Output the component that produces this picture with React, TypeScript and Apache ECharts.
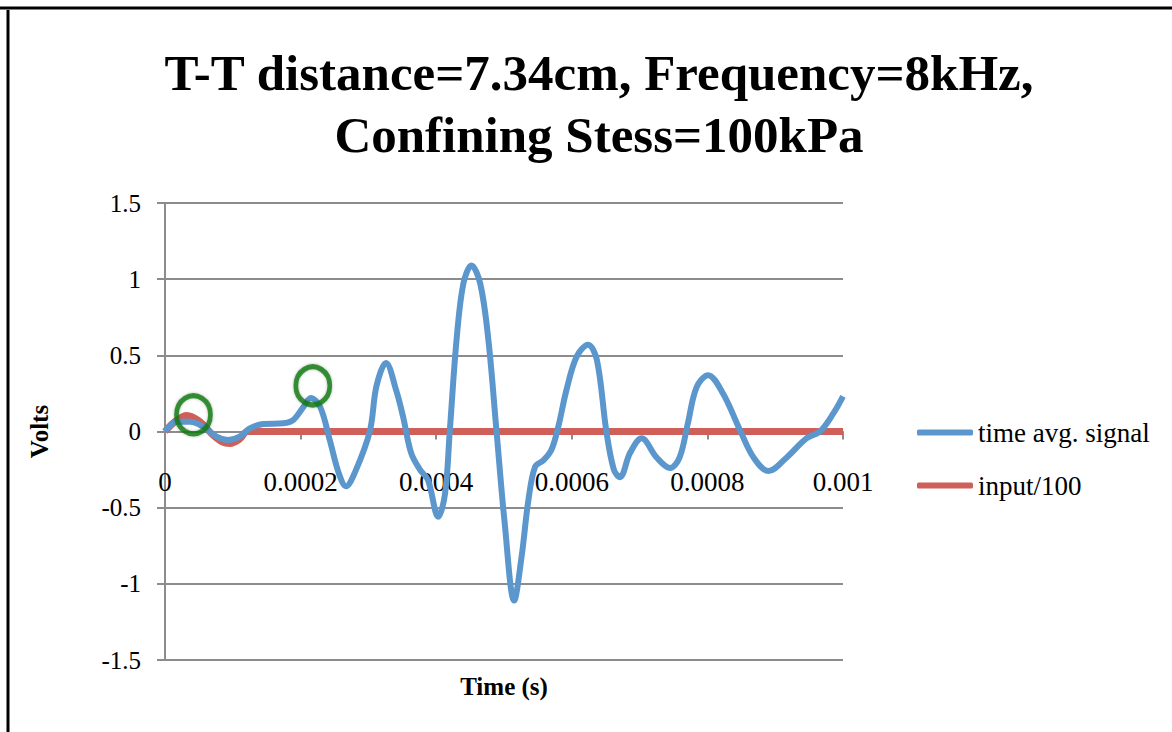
import React, { useEffect, useRef } from "react";
import * as echarts from "echarts";

const titleLines = ["T-T distance=7.34cm, Frequency=8kHz,", "Confining Stess=100kPa"];
const seriesNames = ["time avg. signal", "input/100"];

// time avg. signal: time (s) and volts
const signalTime = [
  0, 0.000017, 0.000037, 0.000057, 0.000076, 0.000093, 0.00011, 0.000125, 0.000145, 0.000174,
  0.000189, 0.000204, 0.000215, 0.000229, 0.000243, 0.000256, 0.000267, 0.00028, 0.000302, 0.000312,
  0.000326, 0.000341, 0.000351, 0.000363, 0.000376, 0.000388, 0.000403, 0.000413, 0.00042,
  0.00043, 0.00044, 0.000452, 0.000465, 0.000477, 0.000489, 0.000501, 0.000515, 0.000526, 0.000536,
  0.000546, 0.000558, 0.00057, 0.00058, 0.000592, 0.000607, 0.000624, 0.000637, 0.000651,
  0.000662, 0.000671, 0.000686, 0.000703, 0.000725, 0.000745, 0.000759, 0.000771, 0.000784, 0.000801,
  0.000823, 0.000848, 0.000868, 0.00089, 0.000917, 0.000946, 0.000966, 0.000986, 0.001,
];
const signalVolts = [
  0, 0.064, 0.064, 0.03, -0.034, -0.056, -0.034, 0.02, 0.049, 0.054,
  0.075, 0.16, 0.22, 0.16, -0.056, -0.27, -0.36, -0.27, 0, 0.3,
  0.45, 0.27, 0.1, -0.14, -0.25, -0.32, -0.56, -0.41, 0,
  0.6, 0.97, 1.09, 0.97, 0.6, 0, -0.6, -1.11, -0.82, -0.45,
  -0.23, -0.19, -0.12, 0.03, 0.27, 0.49, 0.57, 0.47, 0,
  -0.25, -0.3, -0.14, -0.045, -0.17, -0.24, -0.17, 0.05, 0.29, 0.37,
  0.25, 0.01, -0.17, -0.26, -0.17, -0.045, 0, 0.12, 0.23,
];

// input/100
const inputTime = [0, 0.000016, 0.000032, 0.00005, 0.00007, 0.000085, 0.000096, 0.00011, 0.000122, 0.001];
const inputVolts = [0, 0.07, 0.105, 0.07, -0.02, -0.07, -0.078, -0.05, 0, 0];

// green annotation circles (time, volts)
const markTime = [0.000042, 0.000218];
const markVolts = [0.11, 0.3];

const xTicks = { min: 0, max: 0.001, interval: 0.0002 };
const yTicks = { min: -1.5, max: 1.5, interval: 0.5 };

const FONT = "'Liberation Serif', 'DejaVu Serif', serif";

export default function App() {
  const ref = useRef<HTMLDivElement>(null);

  useEffect(() => {
    if (!ref.current) return;
    const chart = echarts.init(ref.current, null, { renderer: "svg" });
    const signal = signalTime.map((t, i) => [t, signalVolts[i]]);
    const input = inputTime.map((t, i) => [t, inputVolts[i]]);
    const marks = markTime.map((t, i) => [t, markVolts[i]]);

    chart.setOption({
      animation: false,
      backgroundColor: "#ffffff",
      title: {
        text: titleLines.join("\n"),
        left: 594,
        top: 37,
        textAlign: "center",
        textStyle: {
          fontFamily: FONT,
          fontWeight: "bold",
          fontSize: 51,
          lineHeight: 62,
          color: "#000",
        },
      },
      grid: {
        left: 165,
        right: 329,
        top: 203,
        bottom: 72,
        containLabel: false,
        outerBoundsMode: "none",
      },
      legend: {
        orient: "vertical",
        left: 912,
        top: 414,
        itemWidth: 56,
        itemHeight: 6,
        itemGap: 26,
        icon: "roundRect",
        data: seriesNames,
        textStyle: { fontFamily: FONT, fontSize: 27, color: "#000" },
      },
      xAxis: {
        type: "value",
        min: xTicks.min,
        max: xTicks.max,
        interval: xTicks.interval,
        offset: -228.5,
        name: "Time (s)",
        nameLocation: "middle",
        nameGap: 242,
        nameTextStyle: { fontFamily: FONT, fontWeight: "bold", fontSize: 25, color: "#000" },
        axisLine: { onZero: false, lineStyle: { color: "#8c8c8c", width: 2 } },
        axisTick: { show: true, inside: false, length: 8, lineStyle: { color: "#8c8c8c", width: 2 } },
        axisLabel: {
          margin: 37,
          fontFamily: FONT,
          fontSize: 27,
          color: "#000",
          formatter: (v: number) => String(+v.toFixed(4)),
        },
        splitLine: { show: false },
      },
      yAxis: {
        type: "value",
        min: yTicks.min,
        max: yTicks.max,
        interval: yTicks.interval,
        name: "Volts",
        nameLocation: "middle",
        nameRotate: 90,
        nameGap: 113,
        nameTextStyle: { fontFamily: FONT, fontWeight: "bold", fontSize: 25, color: "#000" },
        axisLine: { show: true, lineStyle: { color: "#8c8c8c", width: 2 } },
        axisTick: { show: true, length: 8, lineStyle: { color: "#8c8c8c", width: 2 } },
        axisLabel: {
          margin: 24,
          fontFamily: FONT,
          fontSize: 25,
          color: "#000",
          formatter: (v: number) => String(+v.toFixed(1)),
        },
        splitLine: { show: true, lineStyle: { color: "#8c8c8c", width: 2 } },
      },
      series: [
        {
          name: seriesNames[1],
          type: "line",
          data: input,
          smooth: 0.35,
          showSymbol: false,
          lineStyle: { color: "#cf6059", width: 7 },
          itemStyle: { color: "#cf6059" },
          z: 2,
        },
        {
          name: seriesNames[0],
          type: "line",
          data: signal,
          smooth: 0.35,
          showSymbol: false,
          lineStyle: { color: "#5b97cd", width: 6 },
          itemStyle: { color: "#5b97cd" },
          z: 3,
        },
        {
          name: "annotation",
          type: "scatter",
          data: marks,
          symbol: "circle",
          symbolSize: [34, 38],
          itemStyle: {
            color: "rgba(0,0,0,0)",
            borderColor: "#137a13",
            borderWidth: 5,
            shadowColor: "rgba(0,0,0,0.35)",
            shadowBlur: 3,
          },
          z: 5,
          silent: true,
        },
      ],
      graphic: [
        {
          type: "line",
          shape: { x1: 0, y1: 8, x2: 1172, y2: 8 },
          style: { stroke: "#000", lineWidth: 3 },
        },
        {
          type: "line",
          shape: { x1: 8, y1: 10, x2: 8, y2: 732 },
          style: { stroke: "#000", lineWidth: 3 },
        },
      ],
    });
    return () => chart.dispose();
  }, []);

  return (
    <div
      ref={ref}
      style={{ position: "fixed", left: 0, top: 0, width: 1172, height: 732 }}
    />
  );
}
